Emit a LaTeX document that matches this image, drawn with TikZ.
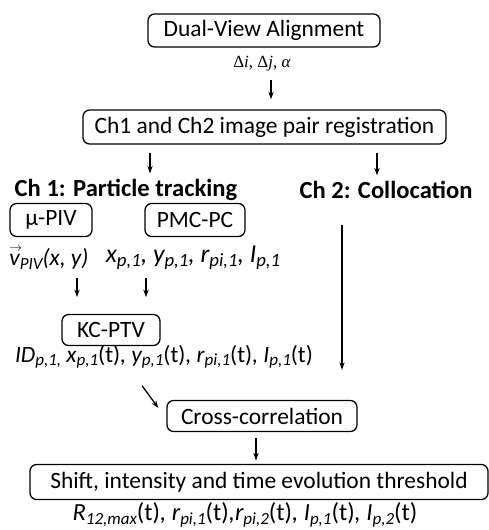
\documentclass[tikz,border=0pt]{standalone}
\usepackage{fontspec}
\setmainfont{Carlito}
\newfontfamily\deltafont{Liberation Serif}
\usetikzlibrary{arrows.meta}
\newcommand\lowsub[1]{\raisebox{-0.32ex}{\fontsize{14.5}{15}\selectfont #1}}
\newcommand\bigsub[1]{\raisebox{-0.32ex}{\fontsize{16}{17}\selectfont #1}}
\newcommand\vecv{\rlap{\raisebox{0.62em}{\fontsize{11}{11}\selectfont$\rightarrow$}}\textit{v}}
\tikzset{
  stepbox/.style={draw=black, line width=1.1pt, rounded corners=0.2cm, inner sep=0pt,
    minimum height=0.99cm, font=\fontsize{20}{22}\selectfont},
  heading/.style={font=\fontsize{21}{24}\selectfont\bfseries},
  formula/.style={inner sep=0pt, font=\fontsize{20}{22}\selectfont\itshape},
  link/.style={line width=1.1pt, -{Stealth[length=6.5pt,width=4.5pt]}},
}

\begin{document}
\begin{tikzpicture}
\useasboundingbox (0,0) rectangle (14.67,15.9);
% top of the chain
\node[stepbox, minimum width=6.96cm] (dva) at (7.92,14.985) {Dual-View Alignment};
\node[font=\deltafont\fontsize{14.5}{16}\selectfont] (delta) at (7.86,13.98) {Δ\textit{i}, Δ\textit{j}, \textit{α}};
\node[stepbox, minimum width=10.89cm, minimum height=1.02cm] (reg) at (7.935,12.09) {Ch1 and Ch2 image pair registration};
% two channels
\node[heading] (trk) at (3.78,10.2) {Ch 1: Particle tracking};
\node[heading] (col) at (11.58,10.2) {Ch 2: Collocation};
\node[stepbox, minimum width=2.46cm] (piv) at (1.53,9.30) {µ-PIV};
\node[stepbox, minimum width=3.0cm] (pmc) at (5.85,9.30) {PMC-PC};
\node[formula] (vpiv) at (1.47,8.16) {\vecv\lowsub{PIV}(x, y)};
\node[formula, font=\fontsize{22}{24}\selectfont\itshape] (xpc) at (5.79,8.16)
  {x\bigsub{p,1}, y\bigsub{p,1}, r\bigsub{pi,1}, I\bigsub{p,1}};
\node[stepbox, minimum width=2.94cm, minimum height=0.93cm] (kc) at (3.33,6.0) {KC-PTV};
\node[formula] (ids) at (4.92,5.19) {ID\lowsub{p,1,} x\lowsub{p,1}\textup{(t)}, y\lowsub{p,1}\textup{(t)}, r\lowsub{pi,1}\textup{(t)}, I\lowsub{p,1}\textup{(t)}};
% merge
\node[stepbox, minimum width=5.7cm, minimum height=0.93cm] (cross) at (7.86,3.42) {Cross-correlation};
\node[stepbox, minimum width=13.74cm, minimum height=1.05cm] (shift) at (7.77,1.44) {Shift, intensity and time evolution threshold};
\node[formula, font=\fontsize{21}{23}\selectfont\itshape] (rout) at (7.35,0.45)
  {R\lowsub{12,max}\textup{(t)}, r\lowsub{pi,1}\textup{(t)},r\lowsub{pi,2}\textup{(t)}, I\lowsub{p,1}\textup{(t)}, I\lowsub{p,2}\textup{(t)}};

\draw[link, shorten <=0.12cm, shorten >=0.3cm] (delta.south -| 8.13,0) -- (reg.north -| 8.13,0);
\draw[link, shorten <=0.24cm, shorten >=0.05cm] (reg.south -| 4.5,0) -- (trk.north -| 4.5,0);
\draw[link, shorten <=0.24cm, shorten >=0.05cm] (reg.south -| 11.31,0) -- (col.north -| 11.31,0);
\draw[link, shorten <=0.25cm, shorten >=0.5cm] (vpiv.south -| 2.31,0) -- (kc.north -| 2.31,0);
\draw[link, shorten <=0.25cm, shorten >=0.5cm] (xpc.south -| 4.38,0) -- (kc.north -| 4.38,0);
\draw[link, shorten <=0.65cm, shorten >=0.9cm] (col.south -| 10.26,0) -- (cross.north -| 10.26,0);
\draw[link] ([xshift=-0.66cm,yshift=-0.5cm]ids.south) -- ([xshift=-0.24cm,yshift=0.24cm]cross.west);
\draw[link, shorten <=0.18cm, shorten >=0.1cm] (cross.south -| 7.68,0) -- (shift.north -| 7.68,0);
\end{tikzpicture}
\end{document}
